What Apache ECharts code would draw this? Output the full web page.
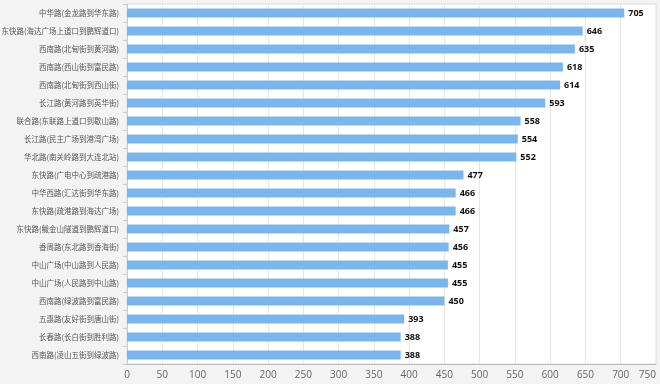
<!DOCTYPE html>
<html><head><meta charset="utf-8">
<script src="https://cdn.jsdelivr.net/npm/echarts@6/dist/echarts.min.js"></script>
<style>html,body{margin:0;padding:0;background:#f3f3f3}#c{width:660px;height:384px}</style>
</head><body><div id="c"></div>
<script>
const categories = ["中华路(金龙路到华东路)","东快路(海达广场上道口到鹏辉道口)","西南路(北甸街到黄河路)","西南路(西山街到富民路)","西南路(北甸街到西山街)","长江路(黄河路到英华街)","联合路(东联路上道口到歇山路)","长江路(民主广场到港湾广场)","华北路(南关岭路到大连北站)","东快路(广电中心到疏港路)","中华西路(汇达街到华东路)","东快路(疏港路到海达广场)","东快路(鲅金山隧道到鹏辉道口)","香周路(东北路到香海街)","中山广场(中山路到人民路)","中山广场(人民路到中山路)","西南路(绿波路到富民路)","五惠路(友好街到唐山街)","长春路(长白街到胜利路)","西南路(凌山五街到绿波路)"];
const values = [705,646,635,618,614,593,558,554,552,477,466,466,457,456,455,455,450,393,388,388];
const xTicks = [0,50,100,150,200,250,300,350,400,450,500,550,600,650,700,750];
const chart = echarts.init(document.getElementById('c'));
chart.setOption({
  backgroundColor:'#f3f3f3',
  animation:false,
  grid:{left:127,right:4,top:4,bottom:20,outerBoundsMode:'none',containLabel:false,show:true,backgroundColor:'#fff',borderColor:'#ddd',borderWidth:1},
  xAxis:{type:'value',min:xTicks[0],max:xTicks[xTicks.length-1],interval:50,
    axisLine:{show:true,lineStyle:{color:'#bbb'}},
    axisTick:{show:false},
    axisLabel:{color:'#666',fontSize:10,fontFamily:'Open Sans',margin:6,alignMaxLabel:'right'},
    splitLine:{lineStyle:{color:'#e6e6e6'}}},
  yAxis:{type:'category',inverse:true,data:categories,
    axisLine:{show:true,lineStyle:{color:'#ccc'}},
    axisTick:{show:true,length:4,lineStyle:{color:'#ccc'}},
    axisLabel:{color:'#555',fontSize:7.5,fontFamily:'Noto Sans CJK SC',margin:8}},
  series:[{type:'bar',data:values,barWidth:'50%',
    itemStyle:{color:'#7cb5ec'},
    label:{show:true,position:'right',color:'#111',fontWeight:'bold',fontSize:9,fontFamily:'Open Sans',distance:4}}]
});
</script></body></html>
